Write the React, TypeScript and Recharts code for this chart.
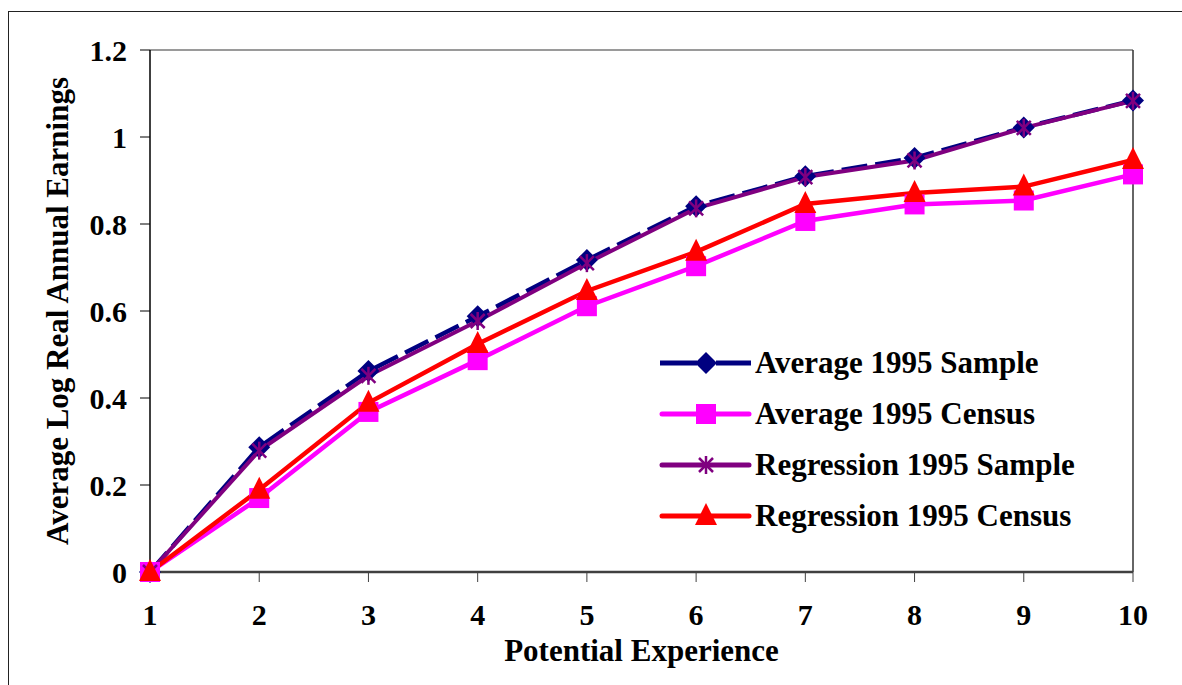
import React from 'react';
import { LineChart, Line, XAxis, YAxis, ReferenceLine, Legend } from 'recharts';

const experience = [1, 2, 3, 4, 5, 6, 7, 8, 9, 10];
const avgSample = [0, 0.287, 0.462, 0.588, 0.717, 0.841, 0.91, 0.952, 1.022, 1.084];
const avgCensus = [0, 0.17, 0.368, 0.487, 0.611, 0.703, 0.807, 0.845, 0.854, 0.914];
const regSample = [0, 0.279, 0.451, 0.577, 0.71, 0.836, 0.908, 0.946, 1.021, 1.083];
const regCensus = [0, 0.189, 0.389, 0.524, 0.646, 0.736, 0.846, 0.871, 0.886, 0.947];
const yTicks = [0, 0.2, 0.4, 0.6, 0.8, 1, 1.2];

const seriesNames = [
  'Average 1995 Sample',
  'Average 1995 Census',
  'Regression 1995 Sample',
  'Regression 1995 Census',
];

const data = experience.map((x, i) => ({
  x,
  avgSample: avgSample[i],
  avgCensus: avgCensus[i],
  regSample: regSample[i],
  regCensus: regCensus[i],
}));

const FONT = "'Liberation Serif', 'DejaVu Serif', serif";
const NAVY = '#000080';
const MAGENTA = '#FF00FF';
const PURPLE = '#800080';
const RED = '#FF0000';

const diamond = (cx: number, cy: number, k: string) => (
  <polygon key={k} points={`${cx},${cy - 11} ${cx + 11},${cy} ${cx},${cy + 11} ${cx - 11},${cy}`} fill={NAVY} />
);
const square = (cx: number, cy: number, k: string) => (
  <rect key={k} x={cx - 10} y={cy - 10} width={20} height={20} fill={MAGENTA} />
);
const triangle = (cx: number, cy: number, k: string) => (
  <polygon key={k} points={`${cx},${cy - 13} ${cx + 11},${cy + 9} ${cx - 11},${cy + 9}`} fill={RED} />
);
const asterisk = (cx: number, cy: number, k: string) => (
  <g key={k} stroke={PURPLE} strokeWidth={2.5}>
    <line x1={cx} y1={cy - 9} x2={cx} y2={cy + 9} />
    <line x1={cx - 7} y1={cy - 7} x2={cx + 7} y2={cy + 7} />
    <line x1={cx - 7} y1={cy + 7} x2={cx + 7} y2={cy - 7} />
  </g>
);

const dotOf = (shape: (cx: number, cy: number, k: string) => React.ReactElement, name: string) =>
  (p: any) => {
    const k = `${name}-${p.index}`;
    if (p.cx == null || p.cy == null) return <g key={k} />;
    return shape(p.cx, p.cy, k);
  };

const LegendBox = () => {
  const rows = [
    { color: NAVY, shape: diamond, dashed: true },
    { color: MAGENTA, shape: square, dashed: false },
    { color: PURPLE, shape: asterisk, dashed: false },
    { color: RED, shape: triangle, dashed: false },
  ];
  return (
    <svg width={440} height={200} style={{ display: 'block' }}>
      {rows.map((r, i) => {
        const cy = 25 + i * 51;
        return (
          <g key={i}>
            {r.dashed ? (
              <g stroke={r.color} strokeWidth={5}>
                <line x1={5} y1={cy} x2={42} y2={cy} />
                <line x1={61} y1={cy} x2={96} y2={cy} />
              </g>
            ) : (
              <line x1={7} y1={cy} x2={94} y2={cy} stroke={r.color} strokeWidth={5} strokeLinecap="round" />
            )}
            {r.shape(51, cy, `lg${i}`)}
            <text x={100} y={cy + 10} fontFamily={FONT} fontWeight="bold" fontSize={31} fill="#000">
              {seriesNames[i]}
            </text>
          </g>
        );
      })}
    </svg>
  );
};

const tickStyle = { fontFamily: FONT, fontWeight: 'bold', fontSize: 30, fill: '#000' };

export default function App() {
  return (
    <div style={{ position: 'absolute', left: 0, top: 0, width: 1182, height: 685, overflow: 'hidden', background: '#fff' }}>
      <div style={{ position: 'absolute', left: 8, top: 11, width: 1200, height: 700, border: '1.5px solid #222' }} />
      <div style={{ position: 'absolute', left: 0, top: 0 }}>
        <LineChart width={1182} height={685} data={data} margin={{ top: 50, right: 49, left: 0, bottom: 0 }}>
          <XAxis
            dataKey="x"
            type="number"
            domain={[1, 10]}
            ticks={experience}
            interval={0}
            height={113}
            tickSize={10}
            tickMargin={22}
            tick={tickStyle}
            axisLine={{ stroke: '#404040', strokeWidth: 2.5 }}
            tickLine={{ stroke: '#404040', strokeWidth: 1 }}
            label={{ value: 'Potential Experience', position: 'insideBottom', offset: 24, style: { ...tickStyle, fontSize: 31 } }}
          />
          <YAxis
            type="number"
            domain={[0, 1.2]}
            ticks={yTicks}
            interval={0}
            width={150}
            tickSize={10}
            tickMargin={13}
            tick={tickStyle}
            tickFormatter={(v: number) => String(v)}
            axisLine={{ stroke: '#000', strokeWidth: 1.5 }}
            tickLine={{ stroke: '#000', strokeWidth: 1 }}
            label={{
              content: (props: any) => {
                const vb = props.viewBox || { x: 0, y: 50, width: 150, height: 522 };
                const cx = vb.x + 57;
                const cy = vb.y + vb.height / 2;
                return (
                  <text
                    x={cx}
                    y={cy}
                    transform={`rotate(-90 ${cx} ${cy})`}
                    textAnchor="middle"
                    dominantBaseline="central"
                    fontFamily={FONT}
                    fontWeight="bold"
                    fontSize={31}
                    fill="#000"
                  >
                    Average Log Real Annual Earnings
                  </text>
                );
              },
            }}
          />
          <ReferenceLine y={1.2} stroke="#9a9a9a" strokeWidth={2} />
          <ReferenceLine x={10} stroke="#333" strokeWidth={1.5} />
          <Legend
            layout="vertical"
            align="center"
            verticalAlign="middle"
            content={() => <LegendBox />}
            wrapperStyle={{ left: 655, top: 338, width: 440, height: 200 }}
          />
          <Line
            type="linear"
            dataKey="avgSample"
            name={seriesNames[0]}
            stroke={NAVY}
            strokeWidth={4.5}
            strokeDasharray="26 8"
            dot={dotOf(diamond, 'as')}
            activeDot={false}
            isAnimationActive={false}
          />
          <Line
            type="linear"
            dataKey="avgCensus"
            name={seriesNames[1]}
            stroke={MAGENTA}
            strokeWidth={4.5}
            dot={dotOf(square, 'ac')}
            activeDot={false}
            isAnimationActive={false}
          />
          <Line
            type="linear"
            dataKey="regSample"
            name={seriesNames[2]}
            stroke={PURPLE}
            strokeWidth={4}
            dot={dotOf(asterisk, 'rs')}
            activeDot={false}
            isAnimationActive={false}
          />
          <Line
            type="linear"
            dataKey="regCensus"
            name={seriesNames[3]}
            stroke={RED}
            strokeWidth={4.5}
            dot={dotOf(triangle, 'rc')}
            activeDot={false}
            isAnimationActive={false}
          />
        </LineChart>
      </div>
    </div>
  );
}
